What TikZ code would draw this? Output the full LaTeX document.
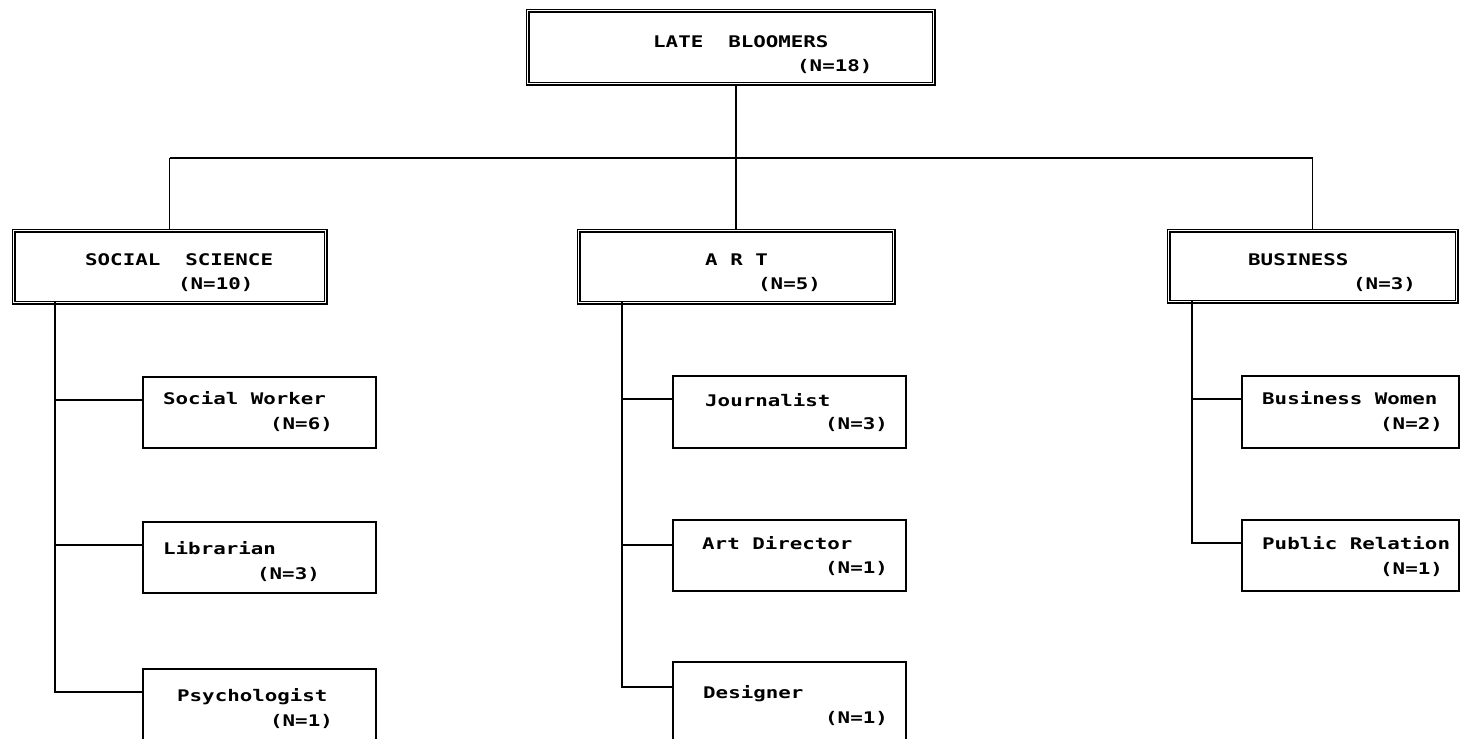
\documentclass[tikz,border=0pt]{standalone}
\usepackage{fontspec}
\newfontfamily\dm{DejaVu Sans Mono}[FakeStretch=1.3]
\begin{document}
\begin{tikzpicture}[x=1pt,y=-1pt,
  box1/.style={draw, double, double distance=1.6pt, line width=1.2pt, rectangle, inner sep=0, anchor=north west},
  box2/.style={draw, line width=1.5pt, rectangle, inner sep=0, anchor=north west},
  lbl/.style={font=\dm\bfseries\fontsize{16}{18}\selectfont, anchor=base west, inner sep=0},
  conn/.style={line width=1.6pt}]
\useasboundingbox (0,0) rectangle (1462,739);
\clip (0,0) rectangle (1462,739);
% level 1
\node[box1, minimum width=406pt, minimum height=73pt] (top) at (527,10) {};
\node[lbl] (topA) at (653,47) {LATE\ \ BLOOMERS};
\node[lbl] (topB) at (797,71) {(N=18)};
% level 2
\node[box1, minimum width=312pt, minimum height=72pt] (ss) at (13,230) {};
\node[lbl] (ssA) at (85,265) {SOCIAL\ \ SCIENCE};
\node[lbl] (ssB) at (178,289) {(N=10)};
\node[box1, minimum width=315pt, minimum height=72pt] (art) at (578,230) {};
\node[lbl] (artA) at (705,265) {A R T};
\node[lbl] (artB) at (758,289) {(N=5)};
\node[box1, minimum width=288pt, minimum height=71pt] (bus) at (1168,230) {};
\node[lbl] (busA) at (1248,265) {BUSINESS};
\node[lbl] (busB) at (1353,289) {(N=3)};
% level 3 social science
\node[box2, minimum width=233pt, minimum height=71pt] (sw) at (142,376) {};
\node[lbl] (swA) at (163,404) {Social Worker};
\node[lbl] (swB) at (270,429) {(N=6)};
\node[box2, minimum width=233pt, minimum height=71pt] (lib) at (142,521) {};
\node[lbl] (libA) at (163,554) {Librarian};
\node[lbl] (libB) at (257,579) {(N=3)};
\node[box2, minimum width=233pt, minimum height=100pt] (psy) at (142,668) {};
\node[lbl] (psyA) at (177,701) {Psychologist};
\node[lbl] (psyB) at (270,726) {(N=1)};
% level 3 art
\node[box2, minimum width=233pt, minimum height=72pt] (jou) at (672,375) {};
\node[lbl] (jouA) at (705,406) {Journalist};
\node[lbl] (jouB) at (825,429) {(N=3)};
\node[box2, minimum width=233pt, minimum height=71pt] (ad) at (672,519) {};
\node[lbl] (adA) at (702,549) {Art Director};
\node[lbl] (adB) at (825,573) {(N=1)};
\node[box2, minimum width=233pt, minimum height=100pt] (des) at (672,661) {};
\node[lbl] (desA) at (703,698) {Designer};
\node[lbl] (desB) at (825,723) {(N=1)};
% level 3 business
\node[box2, minimum width=217pt, minimum height=72pt] (bw) at (1241,375) {};
\node[lbl] (bwA) at (1262,404) {Business Women};
\node[lbl] (bwB) at (1380,429) {(N=2)};
\node[box2, minimum width=217pt, minimum height=71pt] (pr) at (1241,519) {};
\node[lbl] (prA) at (1262,549) {Public Relation};
\node[lbl] (prB) at (1380,574) {(N=1)};
% connectors level 1 -> 2
\coordinate (hl) at (168,158);
\draw[conn] (top.south -| art.north) -- (art.north);
\draw[conn] (ss.north |- hl) -- (bus.north |- hl);
\draw[conn] (ss.north |- hl) -- (ss.north);
\draw[conn] (bus.north |- hl) -- (bus.north);
% branch points on the boxes
\coordinate (swP) at ([yshift=-24pt]sw.north west);
\coordinate (libP) at ([yshift=-24pt]lib.north west);
\coordinate (psyP) at ([yshift=-24pt]psy.north west);
\coordinate (jouP) at ([yshift=-24pt]jou.north west);
\coordinate (adP) at ([yshift=-26pt]ad.north west);
\coordinate (desP) at ([yshift=-26pt]des.north west);
\coordinate (bwP) at ([yshift=-24pt]bw.north west);
\coordinate (prP) at ([yshift=-24pt]pr.north west);
% trunks and branches
\coordinate (ssT) at (55,302);
\coordinate (artT) at (622,302);
\coordinate (busT) at (1192,301);
\draw[conn] (ssT) |- (psyP);
\draw[conn] (ssT |- swP) -- (swP);
\draw[conn] (ssT |- libP) -- (libP);
\draw[conn] (artT) |- (desP);
\draw[conn] (artT |- jouP) -- (jouP);
\draw[conn] (artT |- adP) -- (adP);
\draw[conn] (busT) |- (prP);
\draw[conn] (busT |- bwP) -- (bwP);
\end{tikzpicture}
\end{document}
